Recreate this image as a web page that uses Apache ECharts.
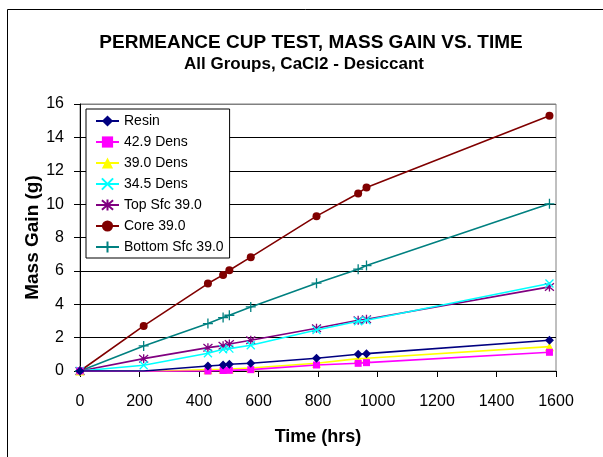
<!DOCTYPE html>
<html>
<head>
<meta charset="utf-8">
<script src="https://cdn.jsdelivr.net/npm/echarts@6/dist/echarts.min.js"></script>
<style>
html,body{margin:0;padding:0;background:#fff;}
#chart{width:603px;height:457px;}
</style>
</head>
<body>
<div id="chart"></div>
<script>
// ---- data ----
var hours = [0, 214, 430, 481, 502, 574, 795, 935, 963, 1578];
var resin = [0, 0.0, 0.3, 0.36, 0.4, 0.46, 0.76, 1.0, 1.04, 1.84];
var dens429 = [0, -0.05, 0.0, 0.03, 0.04, 0.08, 0.36, 0.46, 0.5, 1.12];
var dens390 = [0, -0.05, 0.08, 0.1, 0.12, 0.18, 0.46, 0.74, 0.76, 1.46];
var dens345 = [0, 0.34, 1.06, 1.3, 1.34, 1.54, 2.46, 2.98, 3.04, 5.24];
var topSfc = [0, 0.74, 1.4, 1.52, 1.62, 1.84, 2.56, 3.04, 3.1, 5.04];
var core = [0, 2.7, 5.24, 5.76, 6.04, 6.82, 9.28, 10.64, 11.0, 15.3];
var bottomSfc = [0, 1.5, 2.84, 3.2, 3.34, 3.84, 5.26, 6.1, 6.32, 10.02];
var seriesNames = ['Resin', '42.9 Dens', '39.0 Dens', '34.5 Dens', 'Top Sfc 39.0', 'Core 39.0', 'Bottom Sfc 39.0'];
var xTicks = {min: 0, max: 1600, step: 200};
var yTicks = {min: 0, max: 16, step: 2};

var styles = [
  {color:'#000080', symbol:'diamond', size:9, hideAt:[1]},
  {color:'#FF00FF', symbol:'rect', size:7, hideAt:[1]},
  {color:'#FFFF00', symbol:'triangle', size:9, hideAt:[1]},
  {color:'#00FFFF', symbol:'path://M0,0L10,10M10,0L0,10', size:8, stroke:true},
  {color:'#800080', symbol:'path://M0,0L10,10M10,0L0,10M5,-1L5,11', size:9, stroke:true},
  {color:'#800000', symbol:'circle', size:8},
  {color:'#008080', symbol:'path://M5,0L5,10M1,5L9,5', size:10, stroke:true}
];
var allData = [resin, dens429, dens390, dens345, topSfc, core, bottomSfc];

function pairs(ys, hideAt){
  return hours.map(function(h,i){
    var item = {value: [h, ys[i]]};
    if (hideAt && hideAt.indexOf(i) >= 0) item.symbol = 'none';
    return item;
  });
}

var series = allData.map(function(d, i){
  var s = styles[i];
  return {
    name: seriesNames[i],
    type: 'line',
    data: pairs(d, s.hideAt),
    symbol: s.symbol,
    symbolSize: s.size,
    showAllSymbol: true,
    lineStyle: {color: s.color, width: 1.6},
    itemStyle: s.stroke ? {color: s.color, borderColor: s.color, borderWidth: 1.3} : {color: s.color, borderWidth: 0},
    z: 2 + (7 - i),
    animation: false
  };
});

var chart = echarts.init(document.getElementById('chart'), null, {renderer:'canvas'});
var font = 'Liberation Sans, Arial, sans-serif';
chart.setOption({
  backgroundColor: '#fff',
  animation: false,
  textStyle: {fontFamily: font},
  graphic: [
    {type:'rect', shape:{x:7.5, y:9.5, width:700, height:600}, style:{fill:'none', stroke:'#000', lineWidth:1}, z:-10, silent:true},
    {type:'text', x:311, y:43, style:{text:'PERMEANCE CUP TEST, MASS GAIN VS. TIME', font:'bold 19px ' + font, fill:'#000', textAlign:'center', textVerticalAlign:'middle'}},
    {type:'text', x:304, y:64, style:{text:'All Groups, CaCl2 - Desiccant', font:'bold 17px ' + font, fill:'#000', textAlign:'center', textVerticalAlign:'middle'}}
  ],
  grid: {left: 80, right: 47, top: 104, bottom: 86, show: true, borderColor: '#808080', borderWidth: 1, backgroundColor: '#fff'},
  legend: {
    orient: 'vertical', left: 86, top: 109,
    data: seriesNames,
    backgroundColor: '#fff', borderColor: '#000', borderWidth: 1,
    padding: [5, 6, 4, 9],
    itemWidth: 23, itemHeight: 14, itemGap: 7,
    textStyle: {fontSize: 14, color: '#000', fontFamily: font},
    selectedMode: false
  },
  xAxis: {
    type: 'value', min: xTicks.min, max: xTicks.max, interval: xTicks.step,
    name: 'Time (hrs)', nameLocation: 'middle', nameGap: 57, nameMoveOverlap: false,
    nameTextStyle: {fontSize: 18, fontWeight: 'bold', color: '#000'},
    axisLine: {show: true, onZero: false, lineStyle: {color: '#000', width: 1}},
    axisTick: {show: true, inside: false, length: 6, lineStyle: {color: '#000'}},
    axisLabel: {fontSize: 16, color: '#000', margin: 23, formatter: function(v){ return String(v); }},
    splitLine: {show: false}
  },
  yAxis: {
    type: 'value', min: yTicks.min, max: yTicks.max, interval: yTicks.step,
    name: 'Mass Gain (g)', nameLocation: 'middle', nameGap: 38, nameRotate: 90, nameMoveOverlap: false,
    nameTextStyle: {fontSize: 19, fontWeight: 'bold', color: '#000'},
    axisLine: {show: true, lineStyle: {color: '#000', width: 1}},
    axisTick: {show: true, inside: false, length: 6, lineStyle: {color: '#000'}},
    axisLabel: {fontSize: 16, color: '#000', margin: 16, formatter: function(v){ return String(v); }},
    splitLine: {show: true, lineStyle: {color: ['#000','#000','#000','#000','#000','#000','#000','#000','#808080'], width: 1}}
  },
  series: series
});
</script>
</body>
</html>
